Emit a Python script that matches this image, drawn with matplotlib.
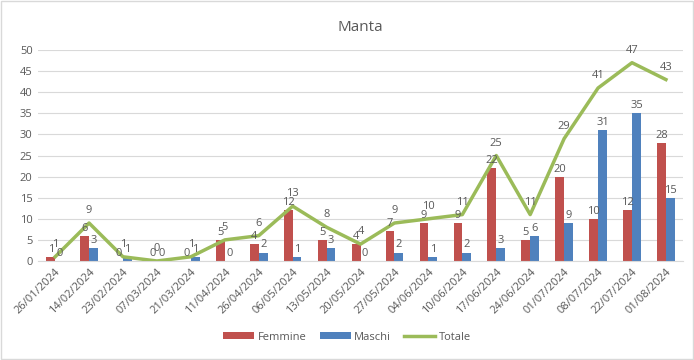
import matplotlib
matplotlib.use("Agg")
import matplotlib.pyplot as plt
import numpy as np

plt.rcParams["font.family"] = ["Open Sans", "DejaVu Sans"]

date = ["26/01/2024", "14/02/2024", "23/02/2024", "07/03/2024", "21/03/2024",
        "11/04/2024", "26/04/2024", "06/05/2024", "13/05/2024", "20/05/2024",
        "27/05/2024", "04/06/2024", "10/06/2024", "17/06/2024", "24/06/2024",
        "01/07/2024", "08/07/2024", "22/07/2024", "01/08/2024"]
femmine = [1, 6, 0, 0, 0, 5, 4, 12, 5, 4, 7, 9, 9, 22, 5, 20, 10, 12, 28]
maschi = [0, 3, 1, 0, 1, 0, 2, 1, 3, 0, 2, 1, 2, 3, 6, 9, 31, 35, 15]
totale = [1, 9, 1, 0, 1, 5, 6, 13, 8, 4, 9, 10, 11, 25, 11, 29, 41, 47, 43]

txt = "#595959"
x = np.arange(len(date))
w = 0.26

fig = plt.figure(figsize=(6.94, 3.6), dpi=100)
ax = fig.add_axes([0.055, 0.275, 0.929, 0.586])

b1 = ax.bar(x - w / 2, femmine, w, color="#C0504D", label="Femmine", zorder=2)
b2 = ax.bar(x + w / 2, maschi, w, color="#4F81BD", label="Maschi", zorder=2)
l1, = ax.plot(x, totale, color="#9BBB59", lw=2.5, label="Totale", zorder=3)

for i in range(len(x)):
    ax.annotate(str(femmine[i]), (x[i] - w / 2, femmine[i]), xytext=(0, 1.5),
                textcoords="offset points", ha="center", va="bottom",
                fontsize=8, color=txt, zorder=4)
    ax.annotate(str(maschi[i]), (x[i] + w / 2, maschi[i]), xytext=(0, 1.5),
                textcoords="offset points", ha="center", va="bottom",
                fontsize=8, color=txt, zorder=4)
    ax.annotate(str(totale[i]), (x[i], totale[i]), xytext=(0, 5),
                textcoords="offset points", ha="center", va="bottom",
                fontsize=8, color=txt, zorder=4)

ax.set_xlim(-0.5, len(x) - 0.5)
ax.set_ylim(0, 50)
ax.set_yticks(range(0, 51, 5))
ax.set_xticks(x)
ax.set_xticklabels(date, rotation=45, ha="right", rotation_mode="anchor")
ax.tick_params(axis="both", length=0, labelsize=8, labelcolor=txt, pad=4)
ax.grid(axis="y", color="#D9D9D9", lw=0.8, zorder=0)
for s in ax.spines.values():
    s.set_visible(False)
ax.spines["bottom"].set_visible(True)
ax.spines["bottom"].set_color("#D9D9D9")

ax.set_title("Manta", fontsize=11, color=txt, pad=14)

fig.legend([b1, b2, l1], ["Femmine", "Maschi", "Totale"], loc="lower center",
           bbox_to_anchor=(0.5, 0.02), ncol=3, frameon=False,
           fontsize=8, labelcolor=txt, handlelength=2.8, handleheight=0.6,
           handletextpad=0.3, columnspacing=1.2)

fig.patches.append(plt.Rectangle((0.002, 0.003), 0.996, 0.994, transform=fig.transFigure,
                                 fill=False, edgecolor="#D9D9D9", lw=1))

fig.savefig("out.png", dpi=100)
